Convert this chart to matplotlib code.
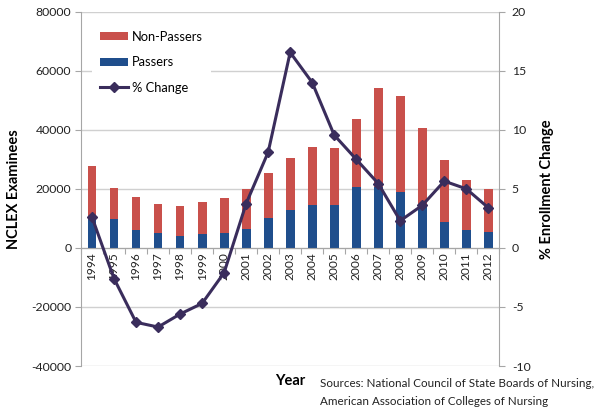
import matplotlib
matplotlib.use("Agg")
import matplotlib.pyplot as plt
from matplotlib.patches import Patch
from matplotlib.lines import Line2D
import numpy as np

plt.rcParams['font.family'] = ['Lato', 'DejaVu Sans']

years = [str(y) for y in range(1994, 2013)]
passers = [10500, 9700, 6000, 5100, 4000, 4600, 5100, 6500, 10000, 12900,
           14600, 14600, 20700, 20500, 18800, 14800, 8700, 6100, 5400]
non_passers = [17300, 10600, 11200, 9900, 10200, 11100, 11900, 13400, 15300, 17400,
               19700, 19100, 23100, 33700, 32600, 25900, 21200, 16900, 14400]
pct_change = [2.6, -2.6, -6.3, -6.7, -5.6, -4.7, -2.1, 3.75, 8.1, 16.55,
              14.0, 9.55, 7.5, 5.45, 2.3, 3.6, 5.65, 5.0, 3.4]
left_ticks = [-40000, -20000, 0, 20000, 40000, 60000, 80000]
right_ticks = [-10, -5, 0, 5, 10, 15, 20]

RED = '#C9504B'
BLUE = '#1F4E8C'
LINE = '#3A2D5C'
GRID = '#D0D0D0'
SPINE = '#A6A6A6'

fig = plt.figure(figsize=(6.01, 4.15), dpi=100)
ax = fig.add_axes([0.1348, 0.118, 0.696, 0.854])
x = np.arange(len(years))

ax.bar(x, passers, width=0.4, color=BLUE, zorder=2)
ax.bar(x, non_passers, width=0.4, bottom=passers, color=RED, zorder=2)

ax.set_xlim(-0.5, len(years) - 0.5)
ax.set_ylim(-40000, 80000)
ax.set_yticks(left_ticks)
ax.set_yticklabels([str(t) for t in left_ticks])
ax.yaxis.grid(True, color=GRID, linewidth=1.0, zorder=0)
ax.set_axisbelow(True)

ax.spines['top'].set_visible(False)
ax.spines['right'].set_visible(False)
ax.spines['left'].set_color(SPINE)
ax.spines['bottom'].set_color(SPINE)
ax.spines['bottom'].set_position(('data', 0))
ax.spines['bottom'].set_zorder(3)

ax.set_xticks(np.arange(-0.5, len(years), 1.0))
ax.set_xticklabels([])
ax.set_xticks(x, minor=True)
ax.set_xticklabels(years, minor=True, rotation=90, fontsize=8.6, color='#222222')
ax.tick_params(axis='x', which='major', length=4, color=SPINE, direction='out')
ax.tick_params(axis='x', which='minor', length=0, pad=3)
ax.tick_params(axis='y', length=4, color=SPINE, labelsize=8.8, labelcolor='#222222', pad=3)

ax2 = ax.twinx()
ax2.plot(x, pct_change, color=LINE, linewidth=2.2, marker='D', markersize=5.5,
         markerfacecolor=LINE, markeredgecolor=LINE, zorder=5)
ax2.set_ylim(-10, 20)
ax2.set_yticks(right_ticks)
ax2.set_yticklabels([str(t) for t in right_ticks])
ax2.tick_params(axis='y', length=4, color=SPINE, labelsize=8.8, labelcolor='#222222', pad=5)
for s in ['top', 'left', 'bottom']:
    ax2.spines[s].set_visible(False)
ax2.spines['right'].set_color(SPINE)

ax.set_ylabel('NCLEX Examinees', fontsize=10.5, fontweight='bold', labelpad=7)
ax2.set_ylabel('% Enrollment Change', fontsize=10.5, fontweight='bold', labelpad=7)

handles = [Patch(facecolor=RED, edgecolor='none'),
           Patch(facecolor=BLUE, edgecolor='none'),
           Line2D([0], [0], color=LINE, linewidth=2.2, marker='D', markersize=5.5)]
labels = ['Non-Passers', 'Passers', '% Change']
leg = ax2.legend(handles, labels, loc='upper left', bbox_to_anchor=(0.008, 0.99),
                 frameon=True, facecolor='white', edgecolor='none', framealpha=1,
                 fontsize=9.3, handlelength=2.2, handleheight=0.6, handletextpad=0.3,
                 labelspacing=1.05, borderaxespad=0.6, borderpad=0.6)
leg.set_zorder(10)

fig.text(0.483, 0.082, 'Year', fontsize=10.5, fontweight='bold', ha='center', va='center')
fig.text(0.533, 0.075, 'Sources: National Council of State Boards of Nursing,',
         fontsize=8.4, ha='left', va='center', color='#222222')
fig.text(0.533, 0.033, 'American Association of Colleges of Nursing',
         fontsize=8.4, ha='left', va='center', color='#222222')

fig.savefig('out.png', dpi=100)
